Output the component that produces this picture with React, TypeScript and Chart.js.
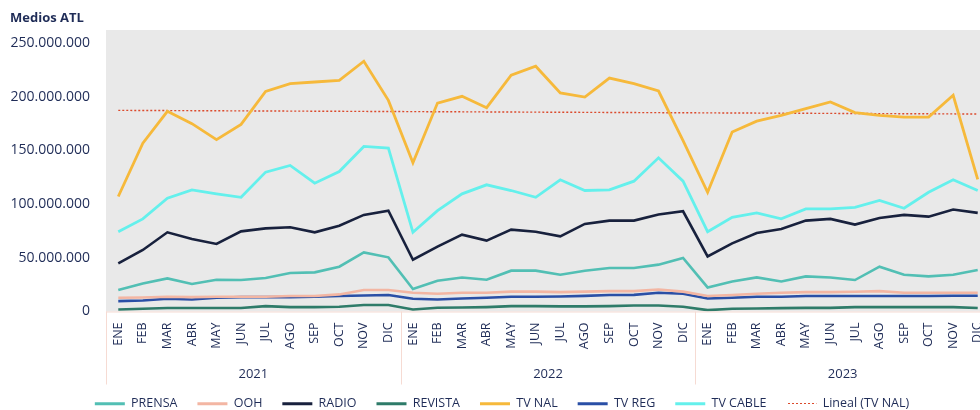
import React, { useEffect, useRef } from 'react';
import { Chart, registerables } from 'chart.js';

Chart.register(...registerables);

const months = ['ENE', 'FEB', 'MAR', 'ABR', 'MAY', 'JUN', 'JUL', 'AGO', 'SEP', 'OCT', 'NOV', 'DIC'];
const years = ['2021', '2022', '2023'];

// values in millions
const MILLION = 1000000;
const prensa = [20.0, 26.1, 30.8, 25.6, 29.6, 29.3, 31.2, 35.8, 36.4, 41.7, 55.0, 50.4,
  20.9, 28.6, 31.7, 29.6, 38.0, 38.0, 34.2, 38.0, 40.5, 40.5, 43.6, 49.8,
  22.4, 28.0, 31.7, 28.0, 32.7, 31.7, 29.3, 41.7, 34.2, 32.7, 34.2, 38.6];
const ooh = [12.8, 13.0, 13.7, 13.4, 13.7, 13.7, 13.7, 14.4, 14.4, 15.9, 20.0, 20.0,
  17.4, 16.5, 17.5, 17.5, 18.5, 18.5, 18.0, 18.5, 19.0, 19.0, 20.5, 18.5,
  14.4, 15.3, 16.5, 17.4, 18.0, 18.0, 18.4, 19.0, 17.4, 17.4, 17.5, 17.5];
const radio = [44.8, 57.3, 73.7, 67.5, 62.9, 74.6, 77.4, 78.4, 73.7, 79.9, 89.9, 93.9,
  48.2, 60.4, 71.5, 66.0, 76.2, 74.3, 70.0, 81.5, 84.6, 84.6, 90.2, 93.3,
  51.3, 63.4, 73.1, 76.8, 84.6, 86.2, 80.9, 87.1, 89.9, 88.3, 94.9, 91.8];
const revista = [1.9, 2.5, 3.2, 3.2, 3.2, 3.2, 5.0, 4.1, 4.1, 4.4, 6.0, 6.0,
  1.9, 3.5, 3.7, 4.1, 5.0, 5.0, 4.8, 4.8, 5.0, 5.6, 5.6, 4.4,
  1.3, 2.5, 2.8, 3.1, 3.4, 3.4, 4.1, 4.1, 4.1, 4.1, 4.1, 3.2];
const tvNal = [107.0, 156.7, 186.3, 174.8, 159.9, 174.2, 204.9, 212.1, 213.6, 215.2, 232.9, 196.5,
  138.4, 194.0, 200.3, 189.7, 219.9, 228.3, 203.4, 199.6, 217.3, 212.1, 205.2, 159.0,
  111.0, 167.0, 177.2, 182.5, 188.8, 195.0, 185.1, 182.6, 181.0, 181.0, 201.2, 123.0];
const tvReg = [9.7, 10.3, 11.8, 11.2, 12.8, 13.4, 13.4, 13.4, 13.7, 14.4, 14.9, 15.3,
  11.8, 11.2, 12.1, 12.8, 13.7, 13.7, 14.0, 14.5, 15.3, 15.5, 17.4, 16.5,
  12.1, 12.8, 13.7, 13.7, 14.4, 14.4, 14.4, 14.4, 14.4, 14.4, 14.6, 14.6];
const tvCable = [74.3, 86.2, 105.4, 113.2, 109.5, 106.3, 129.7, 135.9, 119.4, 130.3, 153.6, 152.0,
  73.7, 93.9, 109.5, 117.9, 112.6, 106.3, 122.6, 112.6, 113.2, 121.3, 143.0, 121.3,
  74.3, 87.7, 91.8, 86.2, 95.5, 95.5, 97.0, 103.3, 96.1, 111.0, 122.6, 112.6];
// linear trend of TV NAL: start and end values
const trendStart = 187.2;
const trendEnd = 183.8;

const yTickValues = [0, 50, 100, 150, 200, 250];
const yMax = 262;

const NAVY = '#1f2c57';
const FONT = '"Open Sans", "Noto Sans", sans-serif';
const TREND_COLOR = '#db4a2c';

function fmt(v: number): string {
  return String(Math.round(v)).replace(/\B(?=(\d{3})+(?!\d))/g, '.');
}

export default function App() {
  const ref = useRef<HTMLCanvasElement>(null);

  useEffect(() => {
    const canvas = ref.current!;
    const pc = document.createElement('canvas');
    pc.width = 4;
    pc.height = 3;
    const pctx = pc.getContext('2d')!;
    pctx.fillStyle = TREND_COLOR;
    pctx.fillRect(0, 1, 2, 1);
    const pattern = canvas.getContext('2d')!.createPattern(pc, 'repeat');

    const labels = years.flatMap(() => months);
    const n = labels.length;
    const scale = (arr: number[]) => arr.map((v) => v * MILLION);
    const trendData: (number | null)[] = labels.map(() => null);
    trendData[0] = trendStart * MILLION;
    trendData[n - 1] = trendEnd * MILLION;

    const mk = (label: string, data: (number | null)[], color: string, width = 2.6) => ({
      label,
      data,
      borderColor: color,
      backgroundColor: color,
      borderWidth: width,
      pointRadius: 0,
      tension: 0,
      fill: false,
    });

    const decor = {
      id: 'decor',
      beforeDraw(chart: any) {
        const { ctx, chartArea: a } = chart;
        ctx.save();
        ctx.fillStyle = '#e9e9e9';
        ctx.fillRect(a.left, a.top, a.right - a.left, a.bottom - a.top);
        ctx.restore();
      },
      afterDraw(chart: any) {
        const { ctx, chartArea: a } = chart;
        const bin = (a.right - a.left) / n;
        ctx.save();
        ctx.strokeStyle = '#f6dbd3';
        ctx.lineWidth = 1;
        ctx.beginPath();
        ctx.moveTo(a.left, a.bottom + 0.5);
        ctx.lineTo(a.right, a.bottom + 0.5);
        for (let k = 0; k <= years.length; k++) {
          const x = Math.round(a.left + k * months.length * bin) + 0.5;
          ctx.moveTo(x, a.bottom);
          ctx.lineTo(x, a.bottom + 73);
        }
        ctx.stroke();
        ctx.fillStyle = NAVY;
        ctx.font = `13px ${FONT}`;
        ctx.textAlign = 'center';
        ctx.textBaseline = 'middle';
        years.forEach((y, k) => {
          const cx = a.left + (k + 0.5) * months.length * bin;
          ctx.fillText(y, cx, a.bottom + 62.5);
        });
        ctx.font = `bold 13px ${FONT}`;
        ctx.textAlign = 'left';
        ctx.fillText('Medios ATL', 10, 18);
        ctx.restore();
      },
    };

    const chart = new Chart(canvas, {
      type: 'line',
      data: {
        labels,
        datasets: [
          mk('PRENSA', scale(prensa), '#52bfb4'),
          mk('OOH', scale(ooh), '#f3b6a3'),
          mk('RADIO', scale(radio), '#18213d'),
          mk('REVISTA', scale(revista), '#2e7b69'),
          mk('TV NAL', scale(tvNal), '#f6b93b', 2.8),
          mk('TV REG', scale(tvReg), '#2a4fa6'),
          mk('TV CABLE', scale(tvCable), '#64f0ec', 2.8),
          {
            ...mk('Lineal (TV NAL)', trendData, TREND_COLOR, 1.4),
            borderDash: [2, 2],
            spanGaps: true,
          },
        ],
      },
      options: {
        responsive: false,
        animation: false,
        devicePixelRatio: 1,
        layout: { padding: { top: 30, left: 0, right: 0, bottom: 0 } },
        plugins: {
          title: { display: false },
          tooltip: { enabled: false },
          legend: {
            position: 'bottom',
            labels: {
              boxWidth: 30,
              boxHeight: 3,
              padding: 20,
              color: NAVY,
              font: { family: FONT, size: 12.5, weight: '500' },
              generateLabels: (c: any) => {
                const items = (Chart.defaults.plugins.legend.labels as any).generateLabels(c);
                return items.map((it: any, i: number) => ({
                  ...it,
                  fillStyle: i === 7 ? pattern : it.strokeStyle,
                  lineWidth: 0,
                  lineDash: [],
                }));
              },
            },
          },
        },
        scales: {
          x: {
            offset: true,
            grid: { display: false, drawTicks: false },
            border: { display: false },
            ticks: {
              autoSkip: false,
              maxRotation: 90,
              minRotation: 90,
              padding: 11,
              color: NAVY,
              font: { family: FONT, size: 12.5 },
            },
            afterFit: (s: any) => {
              s.height = 66;
            },
          },
          y: {
            min: 0,
            max: yMax * MILLION,
            bounds: 'data',
            grid: { display: false, drawTicks: false },
            border: { display: false },
            afterBuildTicks: (s: any) => {
              s.ticks = yTickValues.map((v) => ({ value: v * MILLION }));
            },
            ticks: {
              padding: 16,
              color: NAVY,
              font: { family: FONT, size: 14 },
              callback: (v: any) => fmt(Number(v)),
            },
            afterFit: (s: any) => {
              s.width = 106;
            },
          },
          yr: {
            position: 'right',
            display: true,
            grid: { display: false, drawTicks: false },
            border: { display: false },
            ticks: { display: false },
            afterFit: (s: any) => {
              s.width = 14;
            },
          },
        },
      } as any,
      plugins: [decor],
    });
    return () => chart.destroy();
  }, []);

  return (
    <div
      style={{
        position: 'fixed',
        left: 0,
        top: 0,
        width: 980,
        height: 410,
        overflow: 'hidden',
        background: '#fff',
      }}
    >
      <canvas ref={ref} width={1004} height={420} style={{ display: 'block' }} />
    </div>
  );
}
